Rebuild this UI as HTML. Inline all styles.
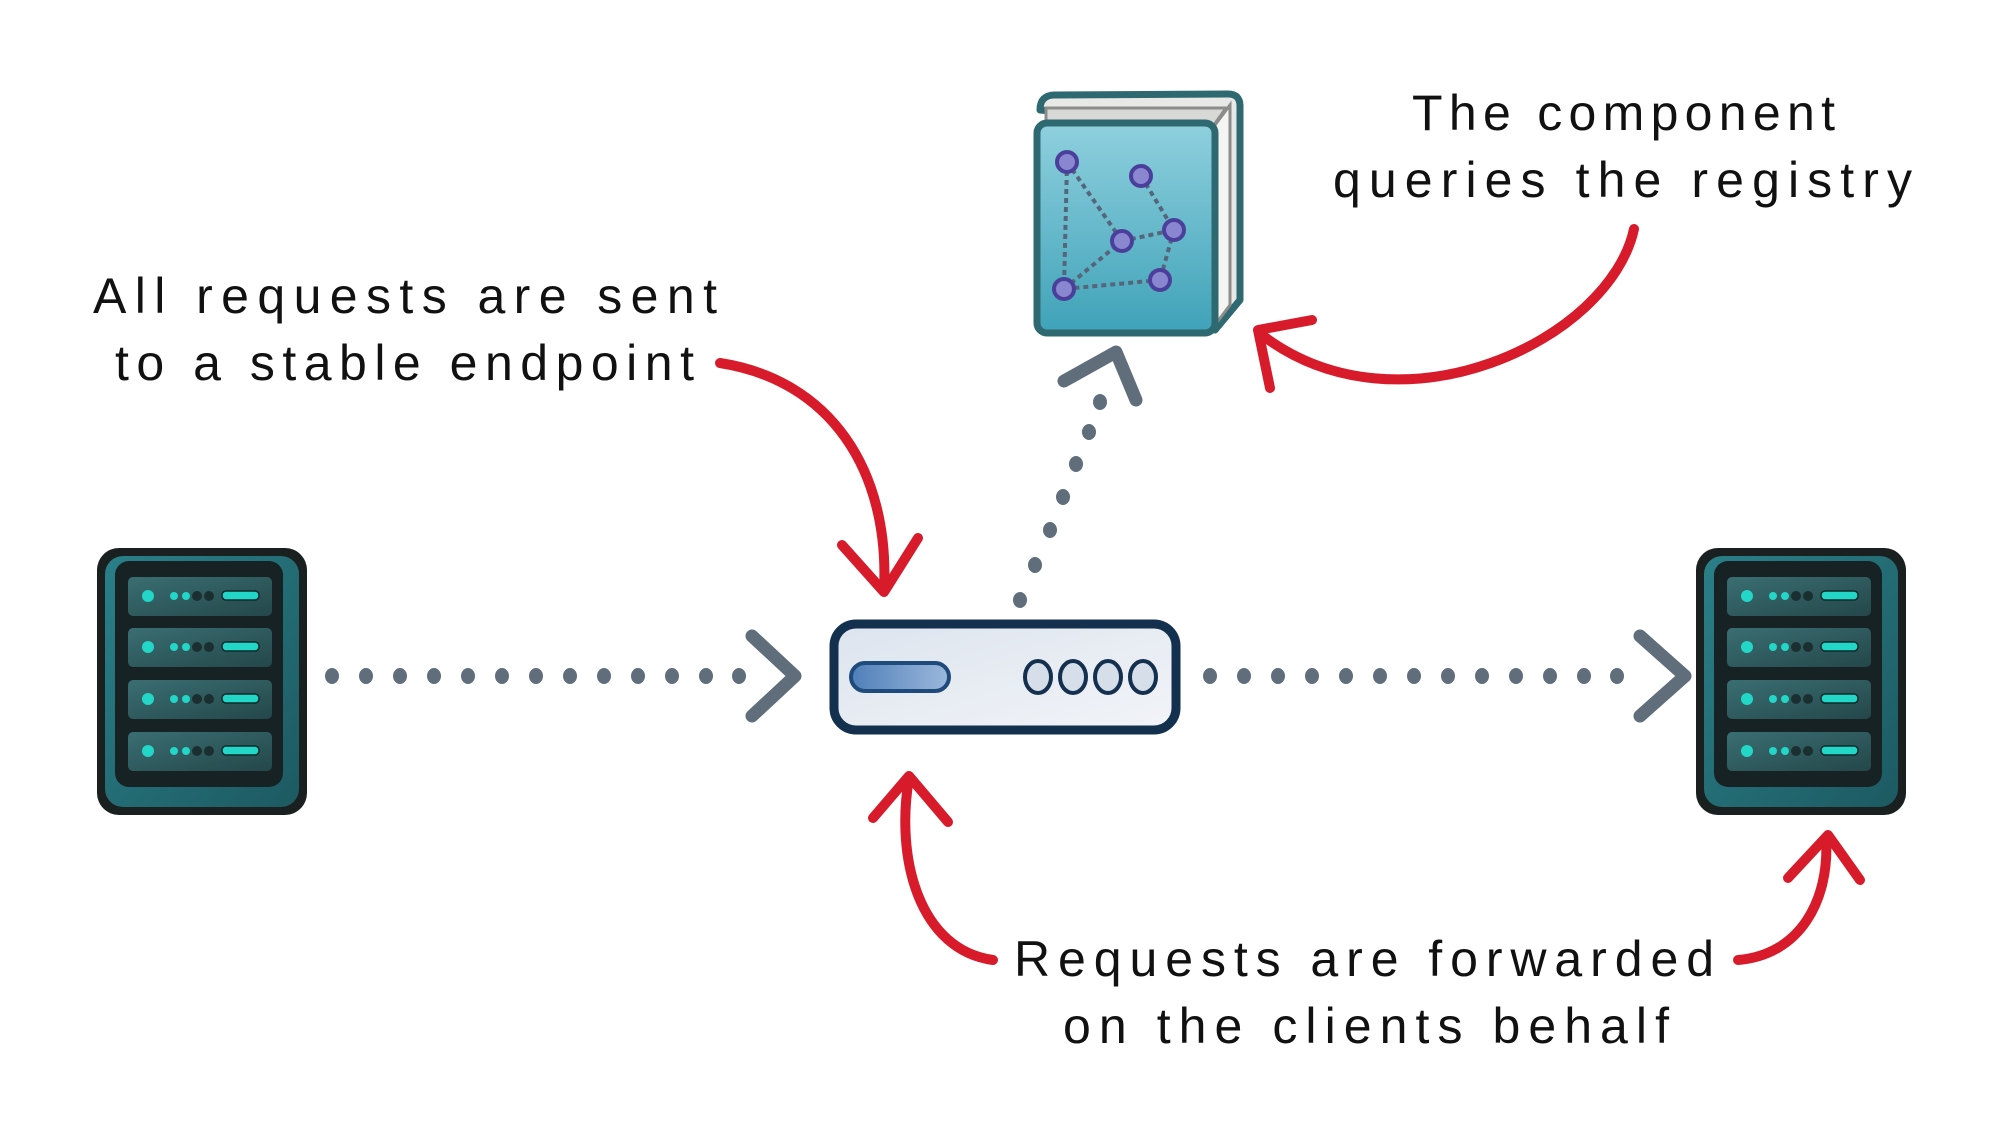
<!DOCTYPE html>
<html><head><meta charset="utf-8"><style>
html,body{margin:0;padding:0;background:#fff;width:2000px;height:1135px;overflow:hidden}
svg{display:block}
text{font-family:"Liberation Sans",sans-serif;font-size:50px;fill:#111}
</style></head><body>
<svg width="2000" height="1135" viewBox="0 0 2000 1135" xmlns="http://www.w3.org/2000/svg">
<defs>
<linearGradient id="teal" x1="0" y1="0" x2="1" y2="1"><stop offset="0" stop-color="#2a7f88"/><stop offset="1" stop-color="#1d5a62"/></linearGradient>
<linearGradient id="slot" x1="0" y1="0" x2="1" y2="1"><stop offset="0" stop-color="#3a6e72"/><stop offset="1" stop-color="#24474a"/></linearGradient>
<linearGradient id="book" x1="0" y1="0" x2="0" y2="1"><stop offset="0" stop-color="#8fd0de"/><stop offset="1" stop-color="#3fa2b8"/></linearGradient>
<linearGradient id="box" x1="0" y1="0" x2="1" y2="1"><stop offset="0" stop-color="#dde4ee"/><stop offset="1" stop-color="#f2f4f8"/></linearGradient>
<linearGradient id="pill" x1="0" y1="0" x2="1" y2="0"><stop offset="0" stop-color="#4f7fb8"/><stop offset="1" stop-color="#9bb8dc"/></linearGradient>
<g id="server">
<rect x="0" y="0" width="210" height="267" rx="22" fill="#1a1f1f"/>
<rect x="8" y="8" width="194" height="251" rx="18" fill="url(#teal)"/>
<rect x="18" y="13" width="168" height="226" rx="14" fill="#172224"/>
<g id="slotg">
<rect x="31" y="29" width="144" height="39" rx="5" fill="url(#slot)"/>
<circle cx="51" cy="48" r="6" fill="#22d6c8"/>
<circle cx="77" cy="48" r="4" fill="#22d6c8"/><circle cx="89" cy="48" r="4" fill="#22d6c8"/>
<circle cx="100" cy="48" r="5" fill="#1b2f30"/><circle cx="112" cy="48" r="5" fill="#1b2f30"/>
<rect x="125" y="43" width="37" height="9" rx="4" fill="#22d6c8" stroke="#0d2b2b" stroke-width="1.5"/>
</g>
<use href="#slotg" y="51"/><use href="#slotg" y="103"/><use href="#slotg" y="155"/>
</g>
</defs>

<use href="#server" x="97" y="548"/>
<use href="#server" x="1714" y="548" transform="translate(-18,0)"/>

<g fill="#5f6e7a">
<g id="dotsL">
<ellipse cx="332" cy="676" rx="7" ry="8"/><ellipse cx="366" cy="676" rx="7" ry="8"/><ellipse cx="400" cy="676" rx="7" ry="8"/><ellipse cx="434" cy="676" rx="7" ry="8"/><ellipse cx="468" cy="676" rx="7" ry="8"/><ellipse cx="502" cy="676" rx="7" ry="8"/><ellipse cx="536" cy="676" rx="7" ry="8"/><ellipse cx="570" cy="676" rx="7" ry="8"/><ellipse cx="604" cy="676" rx="7" ry="8"/><ellipse cx="638" cy="676" rx="7" ry="8"/><ellipse cx="672" cy="676" rx="7" ry="8"/><ellipse cx="706" cy="676" rx="7" ry="8"/><ellipse cx="739" cy="676" rx="7" ry="8"/>
</g>
<use href="#dotsL" x="878"/>
<ellipse cx="1020" cy="600" rx="7" ry="8"/><ellipse cx="1035" cy="565" rx="7" ry="8"/><ellipse cx="1050" cy="530" rx="7" ry="8"/><ellipse cx="1063" cy="497" rx="7" ry="8"/><ellipse cx="1076" cy="464" rx="7" ry="8"/><ellipse cx="1089" cy="432" rx="7" ry="8"/><ellipse cx="1100" cy="402" rx="7" ry="8"/>
</g>
<g fill="none" stroke="#5f6e7a" stroke-width="13" stroke-linecap="round" stroke-linejoin="round">
<polyline points="752,636 795,676 752,716"/>
<polyline points="1640,636 1685,676 1640,716"/>
<polyline points="1064,381 1116,352 1136,400"/>
</g>

<rect x="834" y="624" width="342" height="106" rx="22" fill="url(#box)" stroke="#14304f" stroke-width="9"/>
<rect x="851" y="663" width="98" height="28" rx="14" fill="url(#pill)" stroke="#1e4a7c" stroke-width="4"/>
<g fill="#d6deea" stroke="#14304f" stroke-width="4">
<ellipse cx="1038" cy="677" rx="13" ry="16"/><ellipse cx="1073" cy="677" rx="13" ry="16"/><ellipse cx="1108" cy="677" rx="13" ry="16"/><ellipse cx="1143" cy="677" rx="13" ry="16"/>
</g>

<path d="M1040 110 Q1040 95 1055 95 L1228 94 Q1240 94 1240 106 L1240 300 L1215 330 L1215 125 Z" fill="#e8e8e6" stroke="#2e6870" stroke-width="7" stroke-linejoin="round"/>
<path d="M1046 108 L1226 108 L1214 125 L1046 125 Z" fill="#d8d8d6" stroke="#8c8c8c" stroke-width="3"/>
<path d="M1215 125 L1230 105 L1230 305 L1215 325 Z" fill="#f4f4f2" stroke="#8c8c8c" stroke-width="3"/>
<rect x="1037" y="123" width="178" height="210" rx="10" fill="url(#book)" stroke="#2e6870" stroke-width="7"/>
<g stroke="#55667a" stroke-width="4" stroke-dasharray="5 4" fill="none">
<line x1="1067" y1="162" x2="1122" y2="241"/><line x1="1141" y1="176" x2="1174" y2="230"/><line x1="1122" y1="241" x2="1174" y2="230"/><line x1="1174" y1="230" x2="1160" y2="280"/><line x1="1160" y1="280" x2="1064" y2="289"/><line x1="1064" y1="289" x2="1122" y2="241"/><line x1="1067" y1="162" x2="1064" y2="289"/>
</g>
<g fill="#8a86d0" stroke="#4b3f9c" stroke-width="4">
<circle cx="1067" cy="162" r="10"/><circle cx="1141" cy="176" r="10"/><circle cx="1122" cy="241" r="10"/><circle cx="1174" cy="230" r="10"/><circle cx="1160" cy="280" r="10"/><circle cx="1064" cy="289" r="10"/>
</g>

<g fill="none" stroke="#d81b2a" stroke-width="10" stroke-linecap="round" stroke-linejoin="round">
<path d="M720 363 C830 380 890 470 884 590"/>
<polyline points="842,545 884,592 918,538"/>
<path d="M1634 229 C1610 340 1400 440 1262 335"/>
<polyline points="1312,320 1258,330 1270,388"/>
<path d="M993 960 C920 950 895 860 909 778"/>
<polyline points="873,818 909,776 948,822"/>
<path d="M1738 960 C1800 955 1830 900 1826 838"/>
<polyline points="1788,878 1828,835 1860,880"/>
</g>

<text x="93" y="313" textLength="624" lengthAdjust="spacing">All requests are sent</text>
<text x="115" y="380" textLength="579" lengthAdjust="spacing">to a stable endpoint</text>
<text x="1412" y="130" textLength="423" lengthAdjust="spacing">The component</text>
<text x="1333" y="197" textLength="579" lengthAdjust="spacing">queries the registry</text>
<text x="1014" y="976" textLength="700" lengthAdjust="spacing">Requests are forwarded</text>
<text x="1063" y="1043" textLength="606" lengthAdjust="spacing">on the clients behalf</text>
</svg>
</body></html>
